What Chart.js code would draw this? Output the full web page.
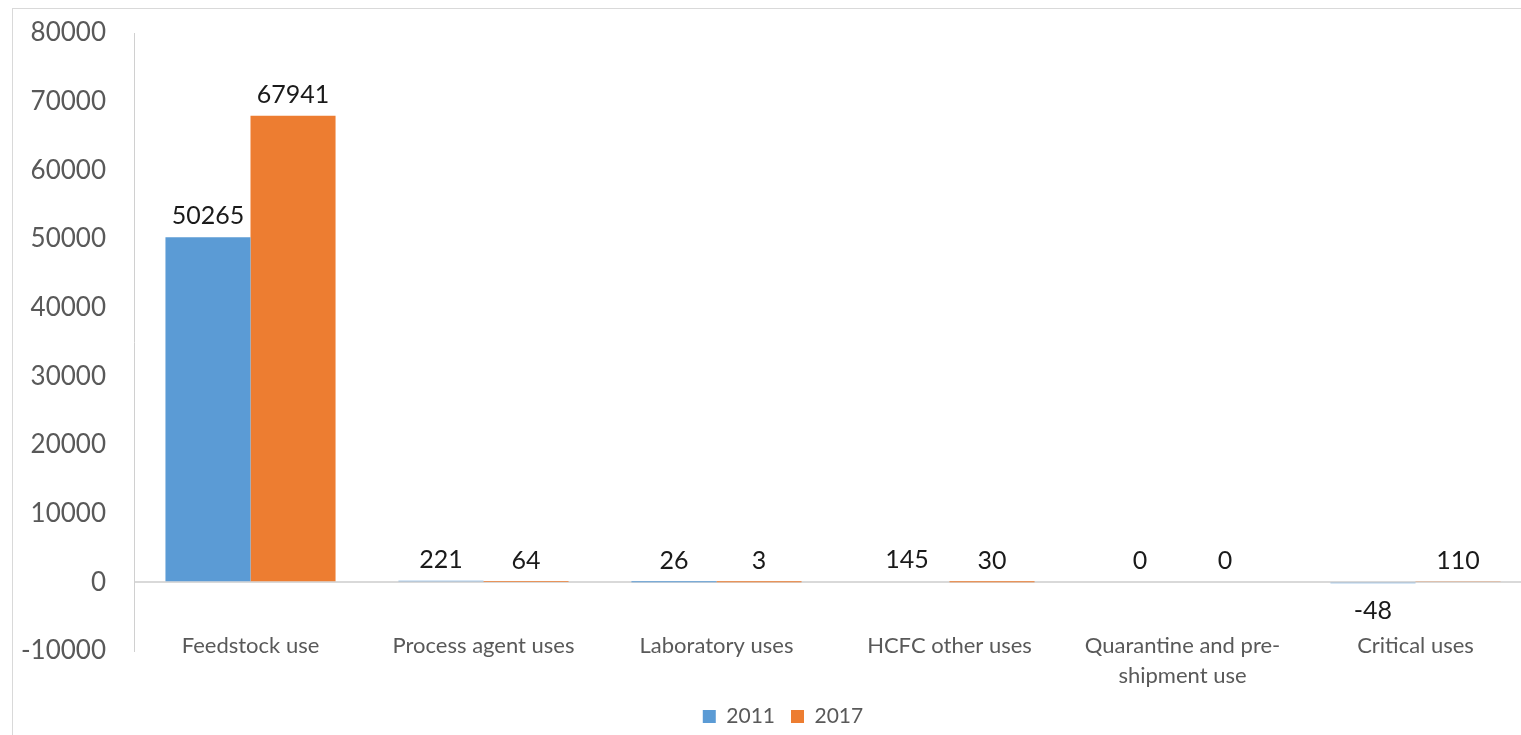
<!DOCTYPE html>
<html>
<head>
<meta charset="utf-8">
<script src="https://cdn.jsdelivr.net/npm/chart.js@4.4.1/dist/chart.umd.min.js"></script>
<style>
  html, body { margin: 0; padding: 0; background: #ffffff; overflow: hidden; }
  #wrap { position: relative; width: 1540px; height: 735px; }
  #frame { position: absolute; left: 12px; top: 8px; width: 1600px; height: 800px;
           border: 1px solid #d9d9d9; box-sizing: border-box; pointer-events: none; }
  canvas { position: absolute; left: 0; top: 0; }
</style>
</head>
<body>
<div id="wrap">
  <div id="frame"></div>
  <canvas id="chart" width="1540" height="735"></canvas>
</div>
<script>
// Consumption by use category
const categories = [
  'Feedstock use',
  'Process agent uses',
  'Laboratory uses',
  'HCFC other uses',
  ['Quarantine and pre-', 'shipment use'],
  'Critical uses'
];
const seriesNames = ['2011', '2017'];
const values2011 = [50265, 221, 26, 145, 0, -48];
const values2017 = [67941, 64, 3, 30, 0, 110];
const yTicks = { min: -10000, max: 80000, step: 10000 };

const FONT = 'Lato, "Open Sans", "DejaVu Sans", sans-serif';

// Value labels above positive bars and below negative ones
const valueLabels = {
  id: 'valueLabels',
  afterDatasetsDraw(chart) {
    const ctx = chart.ctx;
    ctx.save();
    ctx.font = '25px ' + FONT;
    ctx.fillStyle = '#1a1a1a';
    ctx.textAlign = 'center';
    ctx.textBaseline = 'alphabetic';
    const zero = chart.scales.y.getPixelForValue(0);
    chart.data.datasets.forEach((ds, i) => {
      const meta = chart.getDatasetMeta(i);
      meta.data.forEach((bar, j) => {
        const v = ds.data[j];
        if (v < 0) {
          ctx.fillText(String(v), bar.x, Math.max(bar.y, zero) + 36);
        } else {
          ctx.fillText(String(v), bar.x, Math.min(bar.y, zero) - 13);
        }
      });
    });
    ctx.restore();
  }
};

// Nudge the legend row to the right of the canvas centre
const legendShift = {
  id: 'legendShift',
  afterLayout(chart) {
    if (chart.legend) {
      chart.legend.left += 17;
      chart.legend.right += 17;
    }
  }
};

new Chart(document.getElementById('chart'), {
  type: 'bar',
  data: {
    labels: categories,
    datasets: [
      { label: seriesNames[0], data: values2011, backgroundColor: '#5b9bd5', borderWidth: 0 },
      { label: seriesNames[1], data: values2017, backgroundColor: '#ed7d31', borderWidth: 0 }
    ]
  },
  options: {
    responsive: false,
    animation: false,
    events: [],
    layout: { padding: { top: 33, right: 8, left: 0, bottom: -2 } },
    datasets: { bar: { categoryPercentage: 0.73, barPercentage: 1.0 } },
    scales: {
      x: {
        grid: { display: false },
        border: { display: false },
        ticks: {
          color: '#595959',
          font: { family: FONT, size: 22, lineHeight: 1.4 },
          mirror: true,
          padding: -10,
          maxRotation: 0,
          autoSkip: false
        },
        afterFit(scale) { scale.height = 39; scale.paddingTop = 0; scale.paddingBottom = 0; }
      },
      y: {
        min: yTicks.min,
        max: yTicks.max,
        ticks: {
          stepSize: yTicks.step,
          color: '#595959',
          font: { family: FONT, size: 26 },
          padding: 28,
          callback: (v) => String(v)
        },
        grid: {
          drawTicks: false,
          lineWidth: 2,
          color: (c) => (c.tick && c.tick.value === 0 ? '#d9d9d9' : 'rgba(0,0,0,0)')
        },
        border: { display: true, color: '#d0d0d0', width: 1 },
        afterFit(scale) { scale.width = 134; scale.paddingTop = 0; scale.paddingBottom = 0; }
      }
    },
    plugins: {
      legend: {
        position: 'bottom',
        labels: {
          color: '#595959',
          font: { family: FONT, size: 21 },
          boxWidth: 13,
          boxHeight: 13,
          padding: 16
        }
      },
      tooltip: { enabled: false }
    }
  },
  plugins: [valueLabels, legendShift]
});
</script>
</body>
</html>
